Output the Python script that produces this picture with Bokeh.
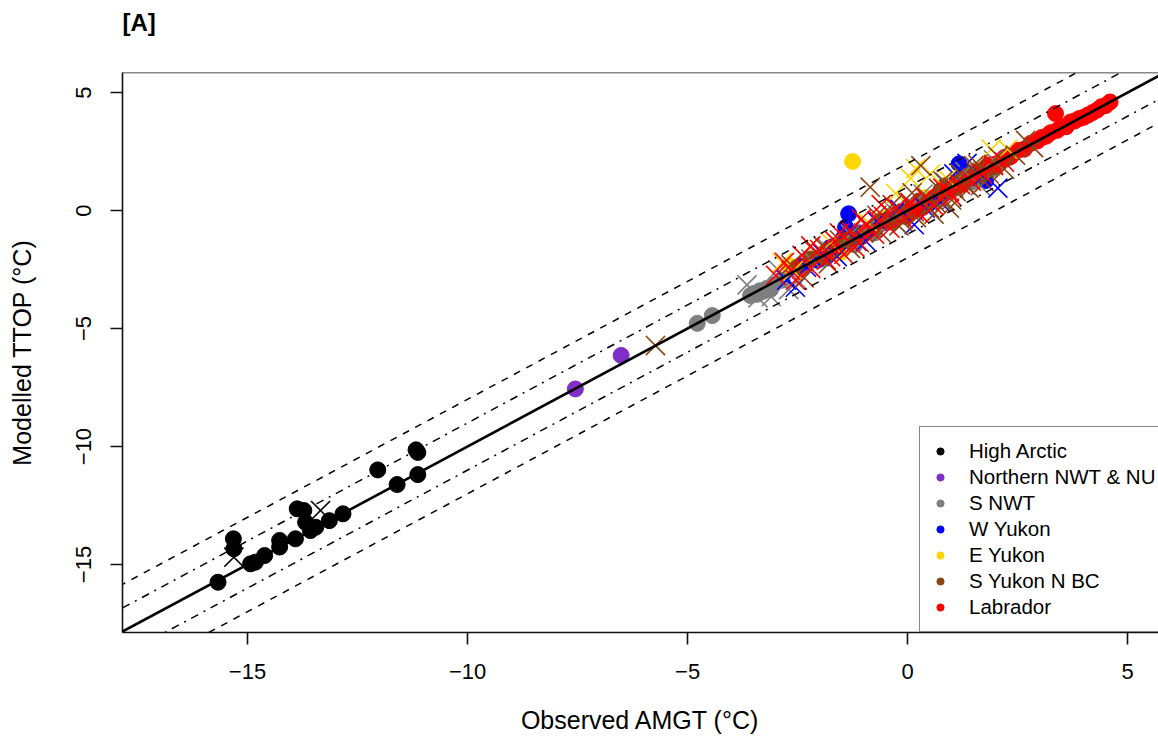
from bokeh.plotting import figure
from bokeh.models import Range1d, FixedTicker, Slope, Legend, LegendItem, Span
from bokeh.embed import file_html
from bokeh.resources import INLINE

# ---------------- data (observed AMGT, modelled TTOP) ----------------
groups = ["High Arctic", "Northern NWT & NU", "S NWT", "W Yukon", "E Yukon", "S Yukon N BC", "Labrador"]
colors = ["#000000", "#7E2FC8", "#7F7F7F", "#0000FF", "#FFD700", "#8B4513", "#FF0000"]

# circles
ha_cx = [-15.67, -15.32, -15.31, -14.93, -14.82, -14.61, -14.27, -14.27, -13.91, -13.87, -13.72, -13.68, -13.57, -13.45, -13.14, -12.83, -12.04, -11.60, -11.13, -11.17, -11.13]
ha_cy = [-15.75, -13.91, -14.33, -14.97, -14.90, -14.62, -13.98, -14.26, -13.91, -12.64, -12.71, -13.21, -13.56, -13.42, -13.14, -12.85, -10.99, -11.61, -11.19, -10.14, -10.25]
nn_cx = [-7.55, -6.51]
nn_cy = [-7.56, -6.14]
sn_cx = [-4.78, -4.44, -3.57, -3.50, -3.42, -3.36, -3.28, -3.20, -3.12, -3.05, -2.85, -2.40, -1.95, -1.55, -1.20, -0.75, -0.35, 0.10, 0.45, 0.80, 1.10, 1.45, 1.70, 1.95]
sn_cy = [-4.78, -4.45, -3.60, -3.52, -3.55, -3.40, -3.42, -3.30, -3.35, -3.15, -2.95, -2.45, -2.05, -1.70, -1.45, -0.95, -0.50, -0.05, 0.30, 0.65, 0.95, 1.20, 1.55, 1.75]
wy_cx = [-2.45, -2.05, -1.75, -1.45, -1.41, -1.34, -1.10, 0.55, 1.05, 1.17, 1.25, 1.77]
wy_cy = [-2.35, -2.10, -1.55, -1.14, -0.71, -0.14, -0.95, 0.45, 1.10, 1.98, 1.75, 1.27]
ey_cx = [-2.70, -1.52, -1.25, -0.55, 0.40]
ey_cy = [-2.33, -1.78, 2.08, -0.35, 0.55]
sy_cx = [-2.50, -2.20, -1.90, -1.60, -1.30, -1.05, -0.80, -0.60, -0.40, -0.20, 0.00, 0.15, 0.30, 0.45, 0.60, 0.75, 0.90, 1.05, 1.20, 1.35, 1.50, 1.65, 1.80, 1.95, 2.10, 2.30, -0.05, 0.35, 0.85, 1.25]
sy_cy = [-2.40, -2.05, -1.95, -1.55, -1.20, -1.10, -0.75, -0.45, -0.45, -0.10, 0.05, 0.00, 0.40, 0.35, 0.50, 0.85, 0.80, 1.15, 1.10, 1.45, 1.40, 1.60, 1.85, 1.85, 2.05, 2.25, -0.25, 0.15, 1.05, 1.30]
lb_cx = [0.60, 0.80, 1.00, 1.15, 1.30, 1.45, 1.60, 1.75, 1.90, 2.05, 2.20, 2.35, 2.50, 2.65, 2.80, 2.95, 3.05, 3.15, 3.25, 3.36, 3.40, 3.50, 3.60, 3.70, 3.80, 3.90, 4.00, 4.10, 4.20, 4.30, 4.40, 4.50, 4.60, -1.70, -0.90, 0.20]
lb_cy = [0.55, 0.70, 1.00, 1.05, 1.30, 1.40, 1.65, 1.70, 1.95, 2.00, 2.25, 2.30, 2.55, 2.60, 2.85, 2.95, 3.10, 3.15, 3.30, 4.11, 3.40, 3.55, 3.55, 3.75, 3.80, 3.90, 3.95, 4.05, 4.15, 4.25, 4.40, 4.45, 4.60, -1.65, -0.85, 0.15]

# crosses
ha_xx = [-15.31, -13.34]
ha_xy = [-14.69, -12.71]
nn_xx = []
nn_xy = []
sn_xx = [-3.65, -3.40, -3.10, -2.95, -2.70, -2.50, -2.20, -1.85, -1.30, -0.90, -0.30, 0.35, 0.85, 1.30, 1.65, 1.95]
sn_xy = [-3.15, -3.70, -3.65, -2.50, -3.35, -2.95, -2.05, -1.55, -1.00, -0.70, -0.05, 0.70, 1.20, 1.65, 1.05, 2.15]
wy_xx = [-2.75, -2.55, -2.30, -1.95, -1.60, -1.15, -0.70, -0.20, 0.40, 0.75, 1.05, 1.35, 1.70, 2.05, -0.95, 0.15]
wy_xy = [-2.95, -3.25, -2.40, -1.80, -1.95, -1.30, -0.45, 0.10, 0.10, 0.35, 1.55, 2.00, 1.45, 0.95, -1.30, -0.60]
ey_xx = [-2.85, -2.60, -1.75, -0.27, 0.07, 0.18, 0.52, 0.90, 1.90, 2.27, -0.90]
ey_xy = [-2.20, -2.55, -1.35, 0.72, 1.36, 1.78, 1.56, 1.35, 2.60, 2.60, -0.50]
sy_xx = [-5.73, -2.65, -2.35, -2.10, -1.80, -1.55, -1.30, -1.00, -0.85, -0.60, -0.40, -0.20, 0.00, 0.20, 0.30, 0.50, 0.70, 0.85, 1.00, 1.20, 1.40, 1.55, 1.75, 1.95, 2.20, 2.45, 2.68, 2.86, -0.70, 0.10, 0.60, 1.10, 1.60, -1.90, 0.95,
         0.45, 0.65, 0.80, 1.05, 1.30, 1.50, 1.85, 2.05, -0.35, -0.10]
sy_xy = [-5.72, -2.30, -2.85, -1.75, -2.25, -1.25, -1.60, -0.95, 0.99, -0.95, -0.10, -0.65, 0.35, -0.30, 1.90, 0.10, 0.95, 0.40, 0.45, 1.55, 0.95, 1.65, 1.20, 1.95, 1.75, 2.35, 2.97, 2.67, -0.20, 0.75, -0.15, 0.80, 1.95, -1.55, 0.10,
         0.55, 0.30, 1.25, 0.95, 1.10, 1.90, 1.55, 2.30, 0.25, -0.50]
lb_xx = [-3.00, -2.80, -2.55, -2.40, -2.20, -2.00, -1.85, -1.65, -1.45, -1.30, -1.10, -0.95, -0.75, -0.55, -0.40, -0.25, -0.10, 0.05, 0.25, 0.40, 0.60, 0.80, 1.00, 1.20, 1.45, 1.70, 1.95, 2.20, -2.65, -1.75, -1.20, -0.65, 0.15, 0.95,
         -2.20, -1.55, -1.05, -0.60]
lb_xy = [-2.75, -2.20, -2.95, -1.90, -2.45, -1.65, -2.10, -1.30, -1.85, -0.85, -1.35, -0.60, -1.00, -0.25, -0.75, 0.10, -0.35, 0.35, -0.10, 0.55, 0.20, 0.95, 0.60, 1.10, 1.25, 1.55, 1.90, 2.05, -2.55, -1.95, -1.55, -0.45, -0.05, 0.80,
         -1.50, -0.95, -0.35, 0.25]

circles = [(ha_cx, ha_cy), (nn_cx, nn_cy), (sn_cx, sn_cy), (wy_cx, wy_cy), (ey_cx, ey_cy), (sy_cx, sy_cy), (lb_cx, lb_cy)]
crosses = [(ha_xx, ha_xy), (nn_xx, nn_xy), (sn_xx, sn_xy), (wy_xx, wy_xy), (ey_xx, ey_xy), (sy_xx, sy_xy), (lb_xx, lb_xy)]

x_ticks = [-15, -10, -5, 0, 5]
y_ticks = [-15, -10, -5, 0, 5]
tick_text = {-15: "\u221215", -10: "\u221210", -5: "\u22125", 0: "0", 5: "5"}
panel_tag = "[A]"

FONT = "Liberation Sans"
X0, X1 = -17.84, 5.70
Y0, Y1 = -17.88, 5.85

p = figure(frame_width=1036, frame_height=560,
           min_border_left=122, min_border_right=0, min_border_top=72, min_border_bottom=106,
           x_range=Range1d(X0, X1), y_range=Range1d(Y0, Y1),
           output_backend="svg", toolbar_location=None, title=panel_tag + "\n ")
p.grid.visible = False
p.outline_line_color = None
p.background_fill_color = "white"
p.border_fill_color = "white"

p.title.text_font = FONT
p.title.text_font_size = "24px"
p.title.text_font_style = "bold"
p.title.text_color = "black"
p.title.align = "left"
p.title.vertical_align = "top"
p.title.standoff = 16

for ax, ticks in ((p.xaxis[0], x_ticks), (p.yaxis[0], y_ticks)):
    ax.ticker = FixedTicker(ticks=ticks, minor_ticks=[])
    ax.major_label_overrides = tick_text
    ax.major_label_text_font = FONT
    ax.major_label_text_font_size = "22px"
    ax.major_label_text_color = "black"
    ax.axis_label_text_font = FONT
    ax.axis_label_text_font_size = "25px"
    ax.axis_label_text_font_style = "normal"
    ax.axis_label_text_color = "black"
    ax.major_tick_out = 12
    ax.major_tick_in = 0
    ax.minor_tick_out = 0
    ax.minor_tick_in = 0
    ax.axis_line_width = 1.6
    ax.major_tick_line_width = 1.6
    ax.axis_line_color = "#111111"
    ax.major_tick_line_color = "#111111"

p.xaxis.axis_label = "Observed AMGT (\u00b0C)"
p.yaxis.axis_label = "Modelled TTOP (\u00b0C)"
p.xaxis.major_label_standoff = 19
p.xaxis.axis_label_standoff = 24
p.yaxis.major_label_orientation = "vertical"
p.yaxis.major_label_standoff = 19
p.yaxis.axis_label_standoff = 38

p.add_layout(Span(location=Y1, dimension="width", line_color="#111111", line_width=1.6))

# all filled circles first, then all crosses on top
legend_items = []
for name, col, (cx, cy) in zip(groups, colors, circles):
    r = p.scatter(cx, cy, marker="circle", size=16, fill_color=col, line_color=col, line_width=1)
    legend_items.append(LegendItem(label=name, renderers=[r]))
for col, (xx, xy) in zip(colors, crosses):
    if xx:
        p.scatter(xx, xy, marker="x", size=27, line_color=col, line_width=1.6)

# reference lines: 1:1, +-1 (dot-dash), +-2 (dashed)
p.add_layout(Slope(gradient=1, y_intercept=0, line_color="black", line_width=2.6))
for off in (1, -1):
    p.add_layout(Slope(gradient=1, y_intercept=off, line_color="black", line_width=1.5, line_dash="2 6 8 6"))
for off in (2, -2):
    p.add_layout(Slope(gradient=1, y_intercept=off, line_color="black", line_width=1.5, line_dash="7 7"))

legend = Legend(items=legend_items, location=(797, 0))
legend.label_text_font = FONT
legend.label_text_font_size = "20.5px"
legend.label_text_color = "black"
legend.glyph_width = 18
legend.glyph_height = 18
legend.label_height = 26
legend.spacing = 0
legend.padding = 11
legend.margin = 0
legend.label_standoff = 20
legend.border_line_color = "#111111"
legend.border_line_width = 1.6
legend.background_fill_alpha = 1.0
p.add_layout(legend, "center")

open("out.html", "w").write(file_html(p, INLINE))
